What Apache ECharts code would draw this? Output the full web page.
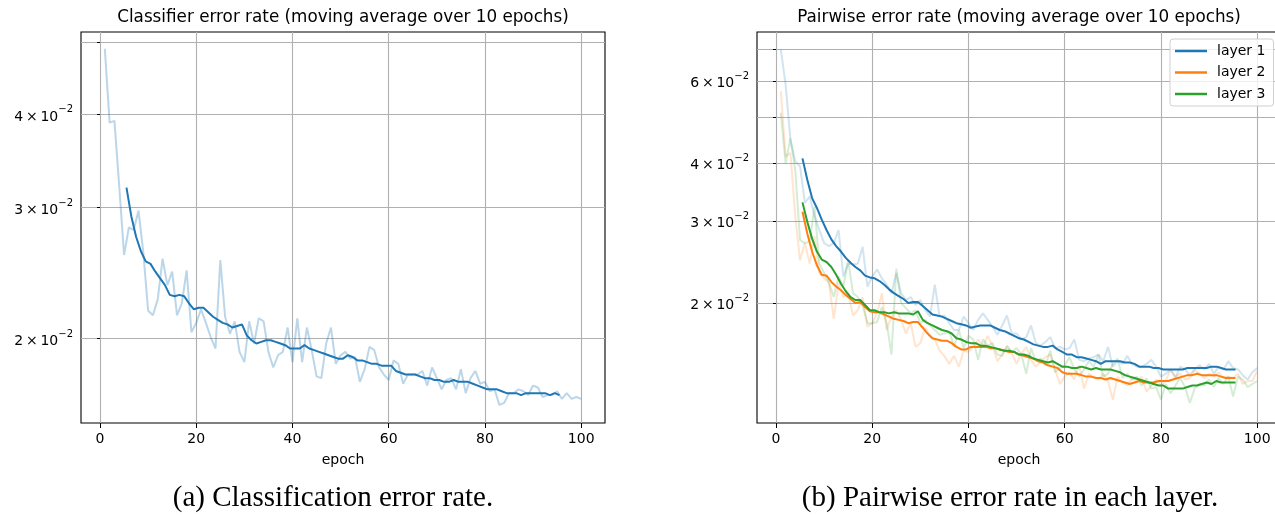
<!DOCTYPE html>
<html><head><meta charset="utf-8">
<script src="https://cdn.jsdelivr.net/npm/echarts@6/dist/echarts.min.js"></script>
<style>html,body{margin:0;padding:0;background:#fff}#c{width:1275px;height:517px}</style>
</head><body><div id="c"></div>
<script>
// ---------- data ----------
const epochs = Array.from({length: 100}, (_, i) => i + 1);       // raw points, epochs 1..100
const maEpochs = Array.from({length: 91}, (_, i) => i + 5.5);    // centre of each 10-epoch window
const xTicks = [0, 20, 40, 60, 80, 100];
const leftYTicks = [0.02, 0.03, 0.04, 0.05];
const leftYLabels = [0.02, 0.03, 0.04];
const rightYTicks = [0.02, 0.03, 0.04, 0.05, 0.06, 0.07];
const rightYLabels = [0.02, 0.03, 0.04, 0.06];
const layerNames = ['layer 1', 'layer 2', 'layer 3'];

const clsRaw = [0.0490,0.0390,0.0392,0.0320,0.0259,0.0282,0.0280,0.0297,0.0261,0.0218,
0.0215,0.0226,0.0256,0.0236,0.0246,0.0215,0.0223,0.0247,0.0204,0.0210,
0.0219,0.0210,0.0201,0.0194,0.0255,0.0214,0.0203,0.0211,0.0192,0.0186,
0.0211,0.0197,0.0213,0.0211,0.0192,0.0183,0.0190,0.0192,0.0207,0.0186,
0.0213,0.0186,0.0207,0.0193,0.0178,0.0177,0.0197,0.0207,0.0185,0.0190,
0.0192,0.0188,0.0189,0.0175,0.0182,0.0195,0.0193,0.0183,0.0179,0.0176,
0.0187,0.0185,0.0174,0.0179,0.0179,0.0179,0.0181,0.0173,0.0183,0.0177,
0.0171,0.0176,0.0177,0.0171,0.0182,0.0169,0.0177,0.0181,0.0174,0.0175,
0.0170,0.0171,0.0163,0.0164,0.0169,0.0169,0.0171,0.0170,0.0168,0.0173,
0.0172,0.0167,0.0168,0.0168,0.0170,0.0166,0.0169,0.0166,0.0167,0.0166];

const clsMA = [0.0319,0.0292,0.0274,0.0262,0.0254,0.0252,0.0246,0.0241,0.0236,0.0229,
0.0228,0.0229,0.0228,0.0223,0.0219,0.0220,0.0220,0.0217,0.0214,0.0212,
0.0210,0.0209,0.0207,0.0208,0.0209,0.0202,0.0199,0.0197,0.0198,0.0199,
0.0199,0.0198,0.0197,0.0196,0.0194,0.0194,0.0194,0.0196,0.0194,0.0193,
0.0192,0.0191,0.0190,0.0189,0.0188,0.0188,0.0190,0.0189,0.0187,0.0187,
0.0186,0.0185,0.0185,0.0184,0.0184,0.0184,0.0181,0.0180,0.0179,0.0179,
0.0179,0.0178,0.0177,0.0177,0.0176,0.0176,0.0175,0.0175,0.0176,0.0175,
0.0175,0.0175,0.0174,0.0173,0.0172,0.0171,0.0171,0.0171,0.0170,0.0169,
0.0169,0.0169,0.0168,0.0169,0.0169,0.0169,0.0169,0.0169,0.0168,0.0169,0.0168];

const l1Raw = [0.0700,0.0589,0.0448,0.0403,0.0393,0.0328,0.0339,0.0307,0.0287,0.0269,
0.0265,0.0269,0.0287,0.0228,0.0243,0.0242,0.0243,0.0264,0.0217,0.0228,
0.0236,0.0226,0.0219,0.0210,0.0232,0.0210,0.0203,0.0206,0.0198,0.0203,
0.0193,0.0187,0.0219,0.0187,0.0188,0.0181,0.0175,0.0175,0.0187,0.0181,
0.0175,0.0184,0.0190,0.0184,0.0178,0.0171,0.0179,0.0188,0.0172,0.0172,
0.0167,0.0169,0.0179,0.0164,0.0162,0.0165,0.0169,0.0160,0.0161,0.0159,
0.0160,0.0167,0.0151,0.0150,0.0152,0.0153,0.0155,0.0150,0.0161,0.0146,
0.0150,0.0148,0.0154,0.0148,0.0146,0.0146,0.0148,0.0151,0.0146,0.0139,
0.0141,0.0144,0.0138,0.0146,0.0144,0.0140,0.0144,0.0147,0.0144,0.0148,
0.0141,0.0146,0.0144,0.0150,0.0145,0.0144,0.0140,0.0137,0.0142,0.0145];

const l2Raw = [0.0570,0.0413,0.0420,0.0307,0.0247,0.0269,0.0243,0.0278,0.0232,0.0226,
0.0221,0.0185,0.0221,0.0206,0.0210,0.0188,0.0193,0.0206,0.0178,0.0181,
0.0190,0.0210,0.0175,0.0187,0.0193,0.0184,0.0172,0.0181,0.0161,0.0164,
0.0177,0.0170,0.0167,0.0158,0.0154,0.0148,0.0154,0.0146,0.0158,0.0157,
0.0161,0.0167,0.0161,0.0170,0.0162,0.0150,0.0155,0.0161,0.0156,0.0148,
0.0156,0.0161,0.0151,0.0146,0.0150,0.0153,0.0155,0.0144,0.0134,0.0139,
0.0142,0.0137,0.0147,0.0131,0.0141,0.0139,0.0137,0.0141,0.0136,0.0124,
0.0139,0.0135,0.0133,0.0138,0.0136,0.0139,0.0129,0.0133,0.0137,0.0133,
0.0136,0.0144,0.0139,0.0141,0.0137,0.0138,0.0144,0.0141,0.0138,0.0141,
0.0139,0.0142,0.0138,0.0139,0.0138,0.0141,0.0134,0.0136,0.0136,0.0143];

const l3Raw = [0.0512,0.0399,0.0452,0.0386,0.0273,0.0269,0.0271,0.0322,0.0243,0.0232,
0.0221,0.0206,0.0228,0.0217,0.0247,0.0210,0.0206,0.0198,0.0181,0.0181,
0.0182,0.0196,0.0181,0.0155,0.0237,0.0200,0.0195,0.0190,0.0193,0.0181,
0.0184,0.0179,0.0175,0.0171,0.0172,0.0174,0.0161,0.0175,0.0160,0.0170,
0.0167,0.0151,0.0167,0.0162,0.0164,0.0155,0.0154,0.0162,0.0157,0.0160,
0.0155,0.0141,0.0160,0.0150,0.0152,0.0147,0.0158,0.0142,0.0145,0.0147,
0.0153,0.0144,0.0139,0.0144,0.0150,0.0146,0.0155,0.0139,0.0141,0.0148,
0.0152,0.0138,0.0141,0.0137,0.0139,0.0133,0.0138,0.0131,0.0132,0.0124,
0.0134,0.0128,0.0133,0.0138,0.0132,0.0122,0.0131,0.0134,0.0133,0.0137,
0.0132,0.0138,0.0134,0.0139,0.0126,0.0139,0.0137,0.0132,0.0134,0.0136];

const l1MA = [0.0409,0.0368,0.0336,0.0320,0.0302,0.0287,0.0274,0.0265,0.0258,0.0250,
0.0244,0.0239,0.0235,0.0229,0.0227,0.0226,0.0223,0.0219,0.0214,0.0210,
0.0207,0.0204,0.0200,0.0201,0.0201,0.0197,0.0193,0.0189,0.0188,0.0187,
0.0185,0.0183,0.0181,0.0180,0.0179,0.0177,0.0178,0.0179,0.0179,0.0179,
0.0177,0.0175,0.0174,0.0172,0.0170,0.0168,0.0167,0.0165,0.0163,0.0162,
0.0161,0.0161,0.0162,0.0159,0.0157,0.0155,0.0155,0.0153,0.0153,0.0152,
0.0151,0.0150,0.0148,0.0150,0.0150,0.0150,0.0150,0.0149,0.0149,0.0148,
0.0146,0.0146,0.0146,0.0145,0.0145,0.0144,0.0144,0.0144,0.0144,0.0144,
0.0145,0.0145,0.0145,0.0145,0.0145,0.0146,0.0146,0.0145,0.0144,0.0144,0.0144];

const l2MA = [0.0314,0.0282,0.0258,0.0241,0.0230,0.0229,0.0222,0.0217,0.0213,0.0208,
0.0204,0.0200,0.0201,0.0196,0.0192,0.0191,0.0191,0.0189,0.0187,0.0185,
0.0184,0.0183,0.0181,0.0182,0.0182,0.0177,0.0172,0.0168,0.0167,0.0166,
0.0166,0.0164,0.0161,0.0159,0.0159,0.0161,0.0161,0.0161,0.0161,0.0160,
0.0160,0.0159,0.0158,0.0157,0.0157,0.0155,0.0154,0.0153,0.0152,0.0150,
0.0149,0.0147,0.0146,0.0145,0.0142,0.0141,0.0141,0.0141,0.0140,0.0139,
0.0139,0.0138,0.0138,0.0137,0.0138,0.0137,0.0136,0.0135,0.0134,0.0135,
0.0136,0.0135,0.0135,0.0135,0.0136,0.0136,0.0136,0.0137,0.0138,0.0139,
0.0140,0.0140,0.0141,0.0140,0.0140,0.0140,0.0140,0.0139,0.0138,0.0138,0.0138];

const l3MA = [0.0329,0.0299,0.0275,0.0258,0.0248,0.0245,0.0239,0.0230,0.0220,0.0212,
0.0206,0.0203,0.0203,0.0198,0.0193,0.0193,0.0191,0.0191,0.0190,0.0191,
0.0190,0.0190,0.0190,0.0189,0.0192,0.0184,0.0181,0.0179,0.0177,0.0175,
0.0174,0.0172,0.0168,0.0167,0.0165,0.0164,0.0164,0.0162,0.0162,0.0161,
0.0160,0.0159,0.0158,0.0158,0.0157,0.0155,0.0155,0.0154,0.0152,0.0151,
0.0150,0.0149,0.0150,0.0148,0.0146,0.0146,0.0145,0.0145,0.0146,0.0145,
0.0144,0.0145,0.0144,0.0144,0.0144,0.0143,0.0142,0.0140,0.0139,0.0138,
0.0137,0.0136,0.0135,0.0134,0.0133,0.0133,0.0131,0.0131,0.0131,0.0131,
0.0132,0.0133,0.0133,0.0134,0.0135,0.0134,0.0136,0.0135,0.0135,0.0135,0.0135];

// ---------- styling ----------
const FONT = '"DejaVu Sans", sans-serif';
const BLUE = '#1f77b4', ORANGE = '#ff7f0e', GREEN = '#2ca02c';
const GRIDC = '#b0b0b0';

function sciLabel(v) {
  const m = Math.round(v * 100);
  return '{m|' + m + '\u2009×\u200910}{e|\u22122}';
}
const sciRich = {
  m: {fontFamily: FONT, fontSize: 14, color: '#000', verticalAlign: 'bottom', lineHeight: 19},
  e: {fontFamily: FONT, fontSize: 10, color: '#000', verticalAlign: 'top', lineHeight: 19}
};

function xAxisCfg(idx) {
  return {
    type: 'value', gridIndex: idx, min: -3.95, max: 104.95,
    name: 'epoch', nameLocation: 'middle', nameGap: 30,
    nameTextStyle: {fontFamily: FONT, fontSize: 14, color: '#000'},
    axisLine: {show: false},
    axisTick: {show: true, length: 5, customValues: xTicks, lineStyle: {color: '#000', width: 1}},
    axisLabel: {customValues: xTicks, margin: 9, fontFamily: FONT, fontSize: 14, color: '#000'},
    splitLine: {show: true, lineStyle: {color: GRIDC, width: 1.1}}
  };
}
function yAxisCfg(idx, min, max, ticks, labels) {
  return {
    type: 'log', logBase: 10, gridIndex: idx, min: min, max: max,
    axisLine: {show: false},
    axisTick: {show: true, length: 3, customValues: ticks, lineStyle: {color: '#000', width: 1}},
    axisLabel: {customValues: labels, margin: 8, formatter: sciLabel, rich: sciRich},
    splitLine: {show: true, lineStyle: {color: GRIDC, width: 1.1}},
    minorTick: {show: false}, minorSplitLine: {show: false}
  };
}
function line(name, xs, ys, xi, color, opacity, z) {
  return {
    name: name, type: 'line', xAxisIndex: xi, yAxisIndex: xi,
    data: xs.map((x, i) => [x, ys[i]]),
    showSymbol: false, symbol: 'none', silent: true, animation: false, z: z,
    color: color,
    lineStyle: {color: color, width: 2, opacity: opacity}
  };
}

const option = {
  animation: false,
  backgroundColor: '#fff',
  grid: [
    {left: 81, top: 32, width: 524, height: 391, show: true, borderColor: '#000', borderWidth: 1.1,
     backgroundColor: 'transparent', outerBoundsMode: 'none', containLabel: false},
    {left: 757, top: 32, width: 524, height: 391, show: true, borderColor: '#000', borderWidth: 1.1,
     backgroundColor: 'transparent', outerBoundsMode: 'none', containLabel: false}
  ],
  xAxis: [xAxisCfg(0), xAxisCfg(1)],
  yAxis: [
    yAxisCfg(0, 0.01541, 0.0516, leftYTicks, leftYLabels),
    yAxisCfg(1, 0.01105, 0.0764, rightYTicks, rightYLabels)
  ],
  legend: {
    data: layerNames, orient: 'vertical', left: 1170, top: 39,
    padding: [5, 8, 5, 5], itemGap: 7.5, itemWidth: 32, itemHeight: 2.5,
    icon: 'rect', selectedMode: false,
    borderColor: '#d0d0d0', borderWidth: 1, borderRadius: 3,
    backgroundColor: 'rgba(255,255,255,0.8)',
    textStyle: {fontFamily: FONT, fontSize: 14, color: '#000', padding: [0, 0, 0, 5]}
  },
  graphic: [
    {type: 'text', x: 343, y: 18, style: {text: 'Classifier error rate (moving average over 10 epochs)', font: '16.8px "DejaVu Sans"', fill: '#000', textAlign: 'center', textVerticalAlign: 'middle'}},
    {type: 'text', x: 1019, y: 18, style: {text: 'Pairwise error rate (moving average over 10 epochs)', font: '16.8px "DejaVu Sans"', fill: '#000', textAlign: 'center', textVerticalAlign: 'middle'}},
    {type: 'text', x: 333, y: 498, style: {text: '(a) Classification error rate.', font: '29px "Liberation Serif"', fill: '#000', textAlign: 'center', textVerticalAlign: 'middle'}},
    {type: 'text', x: 1010, y: 498, style: {text: '(b) Pairwise error rate in each layer.', font: '29px "Liberation Serif"', fill: '#000', textAlign: 'center', textVerticalAlign: 'middle'}}
  ],
  series: [
    line('raw', epochs, clsRaw, 0, BLUE, 0.3, 2),
    line('classifier', maEpochs, clsMA, 0, BLUE, 1, 3),
    line('raw 1', epochs, l1Raw, 1, BLUE, 0.2, 2),
    line('raw 2', epochs, l2Raw, 1, ORANGE, 0.2, 2),
    line('raw 3', epochs, l3Raw, 1, GREEN, 0.2, 2),
    line(layerNames[0], maEpochs, l1MA, 1, BLUE, 1, 3),
    line(layerNames[1], maEpochs, l2MA, 1, ORANGE, 1, 3),
    line(layerNames[2], maEpochs, l3MA, 1, GREEN, 1, 3)
  ]
};
const chart = echarts.init(document.getElementById('c'), null, {renderer: 'canvas'});
chart.setOption(option);
</script></body></html>
